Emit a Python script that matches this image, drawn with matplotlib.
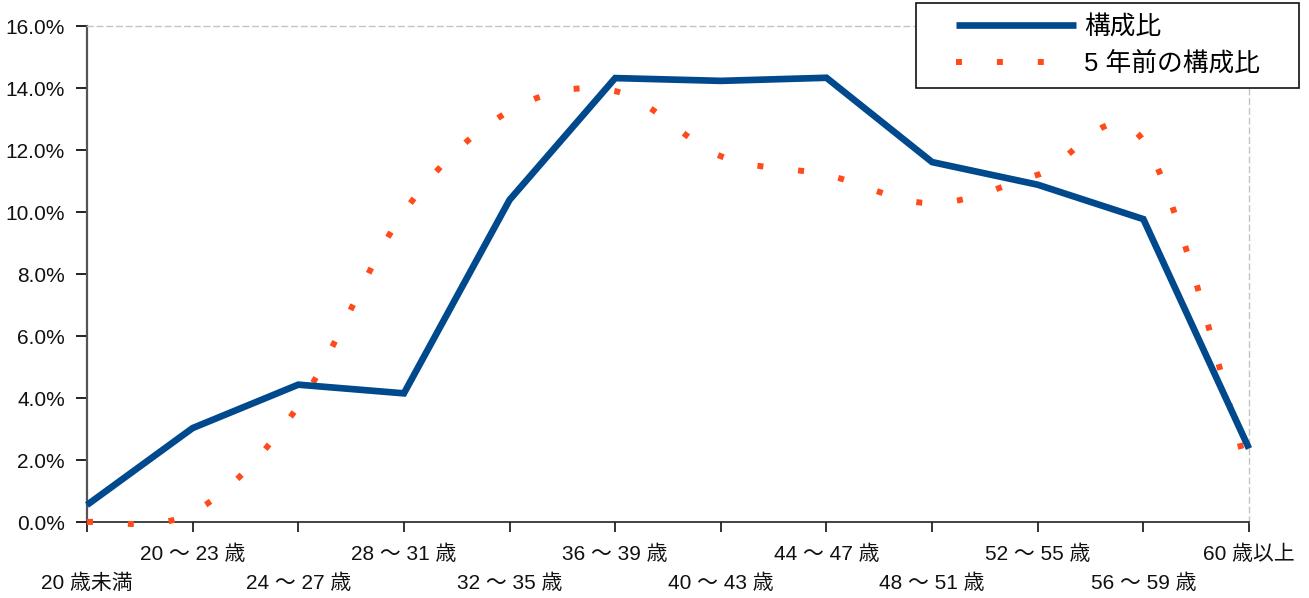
import numpy as np
import matplotlib
matplotlib.use("Agg")
import matplotlib.pyplot as plt
from matplotlib.patches import Rectangle
from matplotlib.lines import Line2D
from matplotlib.ticker import FuncFormatter

plt.rcParams['font.family'] = ['Liberation Sans', 'Noto Sans CJK JP', 'DejaVu Sans']

# Age brackets and share of employees in each (percent)
categories = ["20 歳未満", "20 ～ 23 歳", "24 ～ 27 歳", "28 ～ 31 歳", "32 ～ 35 歳",
              "36 ～ 39 歳", "40 ～ 43 歳", "44 ～ 47 歳", "48 ～ 51 歳", "52 ～ 55 歳",
              "56 ～ 59 歳", "60 歳以上"]
share_now = [0.55, 3.03, 4.43, 4.15, 10.39, 14.32, 14.23, 14.33, 11.61, 10.88, 9.77, 2.37]
share_5y_ago = [0.0, 0.30, 3.74, 10.0, 13.26, 13.9, 11.80, 11.20, 10.28, 11.20, 12.3, 1.5]

label_now = "構成比"
label_prev = "5 年前の構成比"
yticks = [0, 2, 4, 6, 8, 10, 12, 14, 16]

BLUE = "#00498D"
ORANGE = "#FF4B1B"


def smooth(xs, ys, n=40):
    """Catmull-Rom spline through the points (same as a smoothed office chart line)."""
    p = np.column_stack([xs, ys]).astype(float)
    p = np.vstack([p[0], p, p[-1]])
    out = []
    t = np.linspace(0, 1, n, endpoint=False)[:, None]
    for i in range(1, len(p) - 2):
        p0, p1, p2, p3 = p[i - 1], p[i], p[i + 1], p[i + 2]
        m1 = (p2 - p0) / 2
        m2 = (p3 - p1) / 2
        h00 = 2 * t**3 - 3 * t**2 + 1
        h10 = t**3 - 2 * t**2 + t
        h01 = -2 * t**3 + 3 * t**2
        h11 = t**3 - t**2
        out.append(h00 * p1 + h10 * m1 + h01 * p2 + h11 * m2)
    out.append(p[-2][None, :])
    out = np.vstack(out)
    return out[:, 0], out[:, 1]


fig = plt.figure(figsize=(13.09, 5.98), dpi=100)
ax = fig.add_axes([87 / 1309, 76 / 598, (1249 - 87) / 1309, (522 - 26) / 598])

x = np.arange(len(categories))
sx, sy = smooth(x, share_5y_ago)

ax.plot(sx, sy, color=ORANGE, lw=4.3, dashes=(1, 5.85), dash_capstyle='butt',
        clip_on=False, zorder=3)
ax.plot(x, share_now, color=BLUE, lw=4.8, solid_joinstyle='miter',
        solid_capstyle='butt', clip_on=False, zorder=4)

ax.set_xlim(0, len(categories) - 1)
ax.set_ylim(0, 16)

# Axes frame: solid left/bottom, light dashed top/right
for side in ("top", "right"):
    ax.spines[side].set_linestyle((0, (4, 3)))
    ax.spines[side].set_color("#c4c4c4")
    ax.spines[side].set_linewidth(1.0)
ax.spines["left"].set_color("#555555")
ax.spines["left"].set_linewidth(1.6)
ax.spines["bottom"].set_color("#222222")
ax.spines["bottom"].set_linewidth(1.2)

ax.set_yticks(yticks)
ax.yaxis.set_major_formatter(FuncFormatter(lambda v, _: f"{v:.1f}%"))
ax.tick_params(axis="y", length=8, width=1.3, pad=8, labelsize=15, colors="#111111")

ax.set_xticks(x)
ax.set_xticklabels([("\n" if i % 2 == 0 else "") + c for i, c in enumerate(categories)])
ax.tick_params(axis="x", length=7.5, width=1.2, pad=9, labelsize=15, colors="#111111")
for lab in ax.get_xticklabels():
    lab.set_linespacing(1.65)

# Legend with a separate frame
frame = Rectangle((916 / 1309, 1 - 88 / 598), (1299 - 916) / 1309, (88 - 3) / 598,
                  transform=fig.transFigure, facecolor="white", edgecolor="#111111",
                  linewidth=1.2, zorder=5)
fig.patches.append(frame)
handles = [Line2D([], [], color=BLUE, lw=4.8, solid_capstyle='butt'),
           Line2D([], [], color=ORANGE, lw=4.3, dashes=(1, 5.85), dash_capstyle='butt')]
leg = fig.legend(handles, [label_now, label_prev], loc="upper left",
                 bbox_to_anchor=(953 / 1309, 1 - 12 / 598), frameon=False,
                 fontsize=18.5, handlelength=4.7, handletextpad=0.3,
                 labelspacing=0.5, borderpad=0.1, borderaxespad=0)
leg.set_zorder(6)

fig.savefig("out.png", dpi=100, facecolor="white")
